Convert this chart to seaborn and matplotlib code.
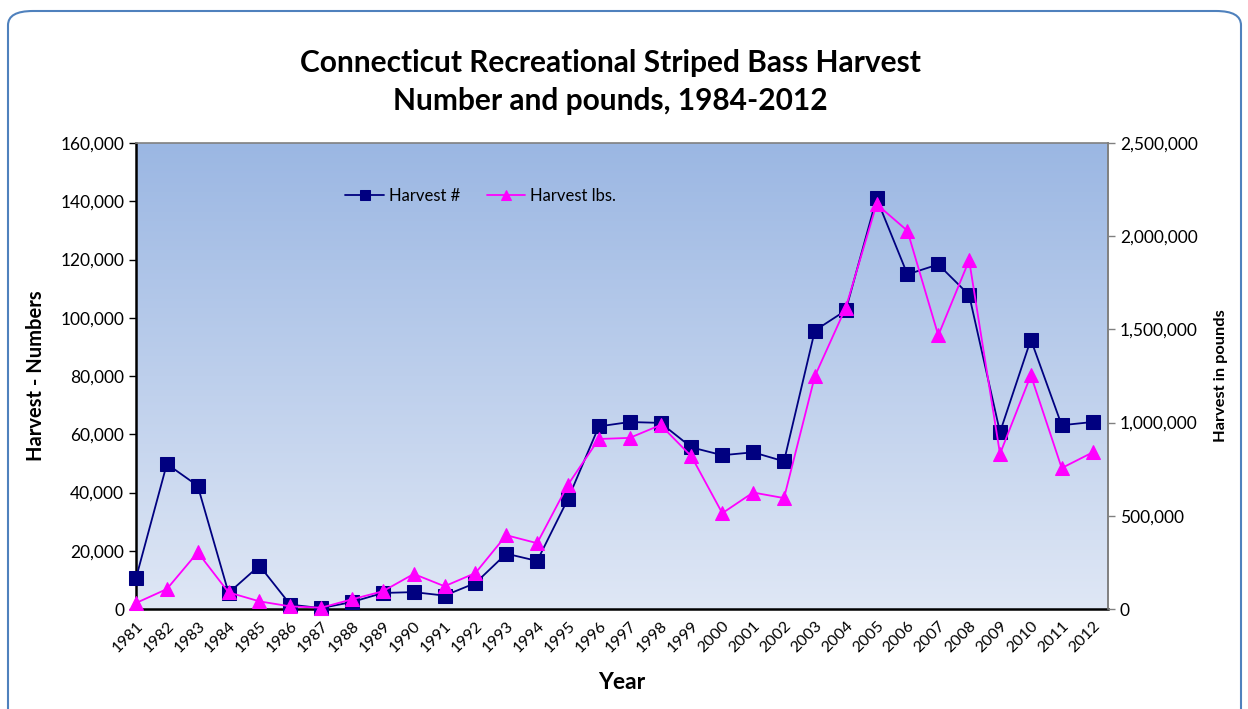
import numpy as np
import pandas as pd
import matplotlib
matplotlib.use('Agg')
import matplotlib.pyplot as plt
import seaborn as sns
from matplotlib.patches import FancyBboxPatch
from matplotlib.ticker import FuncFormatter, MultipleLocator

# values
years = list(range(1981, 2013))
harvest_num = [10600, 49800, 42300, 5500, 14900, 1500, 300, 2400, 5500, 5800,
               4600, 8900, 19000, 16500, 37800, 62700, 64200, 63900, 55500, 52800,
               53800, 50700, 95600, 102500, 141000, 114900, 118300, 107800, 60700, 92500,
               63100, 64200]
harvest_lbs = [32000, 107000, 304000, 89000, 41000, 14000, 7000, 52000, 95000, 188000,
               122000, 193000, 396000, 353000, 667000, 912000, 918000, 987000, 819000, 514000,
               625000, 595000, 1249000, 1616000, 2172000, 2029000, 1468000, 1871000, 832000, 1254000,
               756000, 840000]

df = pd.DataFrame({'Year': years, 'Harvest #': harvest_num, 'Harvest lbs.': harvest_lbs})

sns.set_style('white')
plt.rcParams['font.family'] = ['Lato', 'DejaVu Sans']
plt.rcParams['text.color'] = 'black'

fig = plt.figure(figsize=(12.48, 7.09), dpi=100)

# outer rounded frame (behind everything)
frame = FancyBboxPatch((8 / 1248, -0.05), 1233 / 1248, 1.05 - 11 / 709,
                       boxstyle='round,pad=0,rounding_size=0.02',
                       transform=fig.transFigure, facecolor='white',
                       edgecolor='#4F81BD', linewidth=1.5, zorder=-10)
fig.patches.append(frame)

ax = fig.add_axes([136 / 1248, 1 - 609 / 709, (1108 - 136) / 1248, (609 - 143) / 709])
ax.set_facecolor('none')

# gradient background
grad = np.linspace(0, 1, 256).reshape(-1, 1)
top = np.array([0x9B, 0xB7, 0xE3]) / 255
bot = np.array([0xDF, 0xE7, 0xF5]) / 255
img = top + (bot - top) * grad[..., None]
ax.imshow(img, extent=[0, 1, 0, 1], transform=ax.transAxes, aspect='auto', zorder=0)

sns.lineplot(data=df, x='Year', y='Harvest #', ax=ax, color='#000080', marker='s',
             markersize=9.5, markeredgecolor='#000080', linewidth=1.3, label='Harvest #',
             legend=False, zorder=3, clip_on=False)

ax2 = ax.twinx()
sns.lineplot(data=df, x='Year', y='Harvest lbs.', ax=ax2, color='#FF00FF', marker='^',
             markersize=10.5, markeredgecolor='#FF00FF', linewidth=1.3, label='Harvest lbs.',
             legend=False, zorder=3, clip_on=False)

ax.set_xlim(1981, 2012.5)
ax.set_ylim(0, 160000)
ax2.set_ylim(0, 2500000)
ax.yaxis.set_major_locator(MultipleLocator(20000))
ax2.yaxis.set_major_locator(MultipleLocator(500000))
fmt = FuncFormatter(lambda v, p: f'{int(v):,}')
ax.yaxis.set_major_formatter(fmt)
ax2.yaxis.set_major_formatter(fmt)
ax.set_xticks(years)
ax.set_xticklabels([str(y) for y in years], rotation=45, ha='right', rotation_mode='anchor',
                   fontsize=11.5)
ax.tick_params(axis='x', direction='inout', length=8, width=1, pad=3, colors='black')
ax.tick_params(axis='y', direction='out', length=5, width=1, labelsize=12.5, colors='black')
ax2.tick_params(axis='y', direction='out', length=5, width=1, labelsize=12.5,
                color='#808080', labelcolor='black')

for s in ['left', 'bottom']:
    ax.spines[s].set_color('black')
    ax.spines[s].set_linewidth(1.8)
for s in ['top', 'right']:
    ax.spines[s].set_color('#808080')
    ax.spines[s].set_linewidth(1.2)
for s in ax2.spines.values():
    s.set_visible(False)
ax2.spines['right'].set_visible(True)
ax2.spines['right'].set_color('#808080')
ax2.spines['right'].set_linewidth(1.2)

ax.set_xlabel('Year', fontsize=16.5, fontweight='bold', labelpad=12, color='black')
ax.set_ylabel('Harvest - Numbers', fontsize=14.5, fontweight='bold', labelpad=10, color='black')
ax2.set_ylabel('Harvest in pounds', fontsize=11.8, fontweight='bold', labelpad=12, color='black')

fig.text(0.4888, 1 - 63 / 709, 'Connecticut Recreational Striped Bass Harvest',
         ha='center', va='center', fontsize=21.5, fontweight='bold', color='black')
fig.text(0.4888, 1 - 101 / 709, 'Number and pounds, 1984-2012',
         ha='center', va='center', fontsize=21.5, fontweight='bold', color='black')

h1, l1 = ax.get_legend_handles_labels()
h2, l2 = ax2.get_legend_handles_labels()
ax2.legend(h1 + h2, l1 + l2, loc='center left', bbox_to_anchor=(0.2, 0.887), ncol=2,
           frameon=False, fontsize=12, handlelength=2.3, handletextpad=0.3,
           columnspacing=1.6, markerscale=0.75)

fig.savefig('out.png', dpi=100)
